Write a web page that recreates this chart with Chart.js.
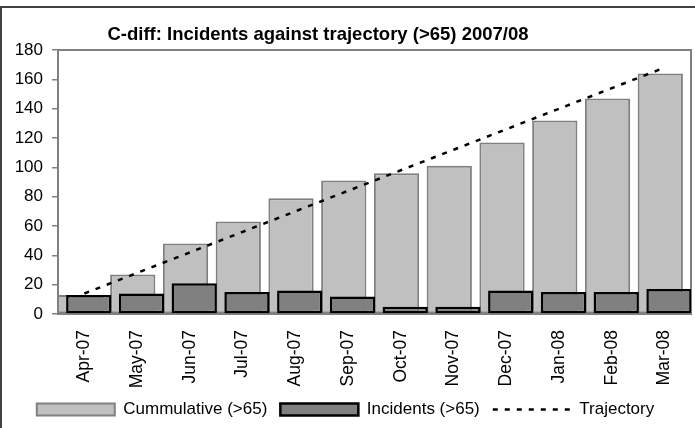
<!DOCTYPE html>
<html>
<head>
<meta charset="utf-8">
<script src="https://cdn.jsdelivr.net/npm/chart.js@4"></script>
<style>
  html, body { margin: 0; padding: 0; background: #fff; }
  #wrap { width: 695px; height: 428px; }
</style>
</head>
<body>
<div id="wrap"><canvas id="cdiffChart"></canvas></div>
<script>
// values
const months = ['Apr-07', 'May-07', 'Jun-07', 'Jul-07', 'Aug-07', 'Sep-07',
                'Oct-07', 'Nov-07', 'Dec-07', 'Jan-08', 'Feb-08', 'Mar-08'];
const cumulative = [13, 27, 48, 63, 79, 91, 96, 101, 117, 132, 147, 164];
const incidents = [13, 14, 21, 15, 16, 12, 5, 5, 16, 15, 15, 17];
const trajectory = [14, 28, 42, 56, 70, 84, 98, 112, 126, 140, 154, 168];

const chartTitle = 'C-diff: Incidents against trajectory (>65) 2007/08';
const fontFamily = "'Liberation Sans', Arial, sans-serif";

// frame, title, and cumulative bars drawn underneath the incident bars
const chartFrame = {
    id: 'chartFrame',
    beforeDraw(chart) {
        const ctx = chart.ctx;
        ctx.save();
        ctx.strokeStyle = '#404040';
        ctx.lineWidth = 2;
        ctx.strokeRect(1, 7, chart.width + 10, chart.height + 10);
        ctx.fillStyle = '#000';
        ctx.font = 'bold 18.5px ' + fontFamily;
        ctx.textAlign = 'center';
        ctx.textBaseline = 'middle';
        ctx.fillText(chartTitle, 318, 35);
        ctx.restore();
    },
    beforeDatasetsDraw(chart) {
        const a = chart.chartArea;
        const ctx = chart.ctx;
        ctx.save();
        ctx.strokeStyle = '#808080';
        ctx.lineWidth = 2;
        ctx.strokeRect(a.left, a.top, a.right - a.left, a.bottom - a.top);
        ctx.restore();
        chart.getDatasetMeta(0).controller.draw();
    },
    beforeDatasetDraw(chart, args) {
        if (args.index === 0) return false;
    }
};

new Chart(document.getElementById('cdiffChart'), {
    type: 'bar',
    data: {
        labels: months,
        datasets: [{
            label: 'Cummulative (>65)',
            data: cumulative,
            backgroundColor: '#C0C0C0',
            borderColor: '#808080',
            borderWidth: 2,
            borderSkipped: false,
            pointStyle: 'rect'
        }, {
            label: 'Incidents (>65)',
            data: incidents,
            backgroundColor: '#808080',
            borderColor: '#000000',
            borderWidth: 2.5,
            borderSkipped: false,
            pointStyle: 'rect'
        }, {
            type: 'line',
            label: 'Trajectory',
            data: trajectory,
            borderColor: '#000000',
            borderWidth: 2.5,
            borderDash: [5, 7],
            pointRadius: 0,
            pointStyle: 'line',
            fill: false,
            tension: 0,
            order: -1
        }]
    },
    options: {
        responsive: true,
        maintainAspectRatio: false,
        animation: false,
        categoryPercentage: 0.33,
        barPercentage: 5.2,
        layout: { padding: { top: 50, right: 4, left: 0, bottom: 0 } },
        scales: {
            x: {
                grid: { display: false, drawTicks: false },
                border: { color: '#808080', width: 2 },
                ticks: {
                    minRotation: 90,
                    maxRotation: 90,
                    padding: 16,
                    color: '#000',
                    font: { family: fontFamily, size: 17.5 }
                },
                afterFit(scale) {
                    scale.height = 74;
                    scale.paddingLeft = 0;
                    scale.paddingRight = 0;
                }
            },
            y: {
                min: 0,
                max: 180,
                ticks: {
                    stepSize: 20,
                    padding: 9,
                    color: '#000',
                    font: { family: fontFamily, size: 17 }
                },
                grid: {
                    drawOnChartArea: false,
                    drawTicks: true,
                    tickLength: 6,
                    color: '#808080',
                    lineWidth: 1.5
                },
                border: { color: '#808080', width: 2 },
                afterFit(scale) { scale.width = 58; }
            }
        },
        plugins: {
            title: { display: false },
            tooltip: { enabled: false },
            legend: {
                position: 'bottom',
                labels: {
                    usePointStyle: true,
                    pointStyleWidth: 78,
                    boxHeight: 12,
                    padding: 13,
                    color: '#000',
                    font: { family: fontFamily, size: 17 },
                    sort: (a, b) => a.datasetIndex - b.datasetIndex,
                    generateLabels(chart) {
                        const items = Chart.defaults.plugins.legend.labels.generateLabels(chart);
                        items.forEach(item => {
                            const ds = chart.data.datasets[item.datasetIndex];
                            item.strokeStyle = ds.borderColor;
                            item.lineWidth = ds.borderWidth;
                            item.lineDash = ds.borderDash || [];
                        });
                        return items;
                    }
                }
            }
        }
    },
    plugins: [chartFrame]
});
</script>
</body>
</html>
